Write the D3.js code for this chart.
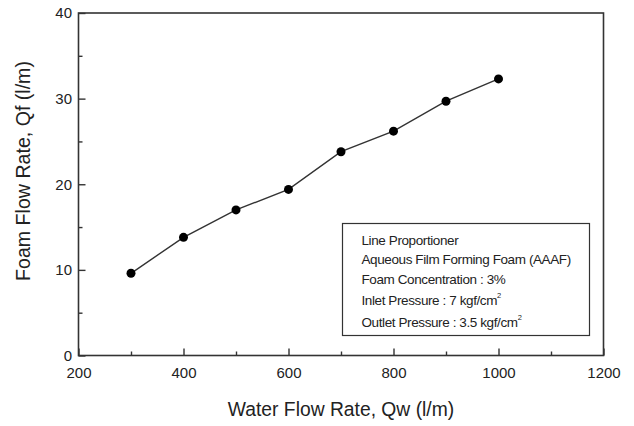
<!DOCTYPE html>
<html><head><meta charset="utf-8">
<script src="https://cdn.jsdelivr.net/npm/d3@7"></script>
<style>body{margin:0;background:#fff}svg{display:block}text{font-family:"Liberation Sans",Arial,sans-serif;fill:#222}</style>
</head><body>
<svg id="c" width="634" height="426"></svg>
<script>
const waterFlow = [300, 400, 500, 600, 700, 800, 900, 1000];
const foamFlow = [9.6, 13.8, 17.0, 19.4, 23.8, 26.2, 29.7, 32.3];
const xTicks = [200, 400, 600, 800, 1000, 1200];
const xMinor = [300, 500, 700, 900, 1100];
const yTicks = [0, 10, 20, 30, 40];
const yMinor = [5, 15, 25, 35];
const noteLines = ["Line Proportioner", "Aqueous Film Forming Foam (AAAF)", "Foam Concentration : 3%", "Inlet Pressure : 7 kgf/cm", "Outlet Pressure : 3.5 kgf/cm"];
const noteSup = [false, false, false, true, true];

const svg = d3.select("#c");
const L = 78.5, R = 603.5, T = 13, B = 355.5;
const x = d3.scaleLinear().domain([200, 1200]).range([L, R]);
const y = d3.scaleLinear().domain([0, 40]).range([B, T]);
const col = "#333";

const xa = svg.append("g").attr("transform", `translate(0,${B})`)
  .call(d3.axisBottom(x).tickValues(xTicks).tickSizeInner(-7).tickSizeOuter(0).tickFormat(d3.format("d")));
const xm = svg.append("g").attr("transform", `translate(0,${B})`)
  .call(d3.axisBottom(x).tickValues(xMinor).tickSizeInner(-4).tickSizeOuter(0).tickFormat(""));
const ya = svg.append("g").attr("transform", `translate(${L},0)`)
  .call(d3.axisLeft(y).tickValues(yTicks).tickSizeInner(-7).tickSizeOuter(0).tickPadding(6.5).tickFormat(d3.format("d")));
const ym = svg.append("g").attr("transform", `translate(${L},0)`)
  .call(d3.axisLeft(y).tickValues(yMinor).tickSizeInner(-4).tickSizeOuter(0).tickFormat(""));
[xa, xm, ya, ym].forEach(g => {
  g.select(".domain").remove();
  g.selectAll("line").attr("stroke", col).attr("stroke-width", 1.4);
  g.selectAll("text").attr("font-size", 15).attr("fill", "#222").attr("font-family", "Liberation Sans, Arial, sans-serif");
});
xa.selectAll("text").attr("y", 22.5).attr("dy", null);

svg.append("rect").attr("x", L).attr("y", T).attr("width", R - L).attr("height", B - T)
  .attr("fill", "none").attr("stroke", col).attr("stroke-width", 1.6);

const line = d3.line().x((d, i) => x(waterFlow[i])).y(d => y(d));
svg.append("path").datum(foamFlow).attr("d", line).attr("fill", "none").attr("stroke", col).attr("stroke-width", 1.4);
svg.selectAll("circle.pt").data(foamFlow).join("circle").attr("class", "pt")
  .attr("cx", (d, i) => x(waterFlow[i])).attr("cy", d => y(d)).attr("r", 4.5).attr("fill", "#000");

svg.append("text").attr("x", 341).attr("y", 416).attr("text-anchor", "middle")
  .attr("font-size", 19.3).text("Water Flow Rate, Qw (l/m)");
svg.append("text").attr("transform", `translate(29.5,171) rotate(-90)`).attr("text-anchor", "middle")
  .attr("font-size", 19.6).text("Foam Flow Rate, Qf (l/m)");

// note box
svg.append("rect").attr("x", 342.5).attr("y", 223.5).attr("width", 247).attr("height", 112)
  .attr("fill", "#fff").attr("stroke", col).attr("stroke-width", 1.2);
const baseY = [245, 264, 284, 305, 327];
noteLines.forEach((s, i) => {
  const t = svg.append("text").attr("x", 361.5).attr("y", baseY[i]).attr("font-size", 13.5)
    .attr("letter-spacing", -0.4).text(s);
  if (noteSup[i]) t.append("tspan").attr("dy", -7).attr("font-size", 7.5).text("2");
});
</script>
</body></html>
